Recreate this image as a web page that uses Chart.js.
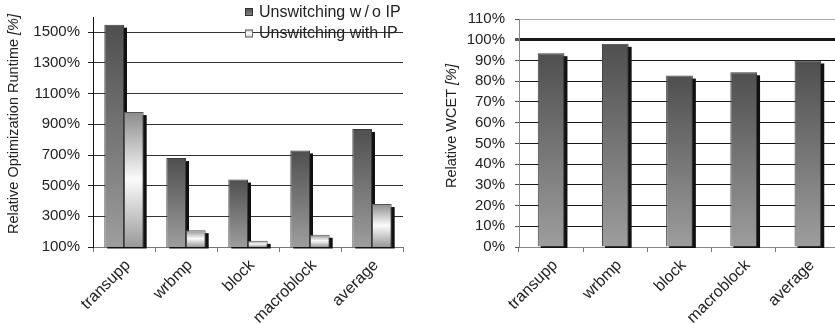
<!DOCTYPE html>
<html>
<head>
<meta charset="utf-8">
<script src="https://cdn.jsdelivr.net/npm/chart.js@4.4.1/dist/chart.umd.min.js"></script>
<style>
  html, body { margin: 0; padding: 0; background: #fff; }
  #wrap { position: relative; width: 835px; height: 324px; overflow: hidden; }
  #left { position: absolute; left: 0; top: 0; width: 415px; height: 324px; }
  #right { position: absolute; left: 415px; top: 0; width: 420px; height: 324px; overflow: hidden; }
  canvas { display: block; }
</style>
</head>
<body>
<div id="wrap">
  <div id="left"><canvas id="runtime" width="415" height="324" style="width:415px;height:324px"></canvas></div>
  <div id="right"><canvas id="wcet" width="425" height="324" style="width:425px;height:324px"></canvas></div>
</div>
<script>
// Benchmarks and measured values
const benchmarks = ['transupp', 'wrbmp', 'block', 'macroblock', 'average'];
const seriesNames = ['Unswitching w\u2009/\u2009o IP', 'Unswitching with IP'];
const runtimeWithoutIP = [1550, 680, 540, 730, 870];
const runtimeWithIP = [980, 210, 140, 180, 380];
const runtimeTicks = [100, 300, 500, 700, 900, 1100, 1300, 1500];
const wcetValues = [93.5, 98, 82.7, 84.3, 90];
const wcetTicks = [0, 10, 20, 30, 40, 50, 60, 70, 80, 90, 100, 110];

const FONT = '"Liberation Sans", Arial, Helvetica, sans-serif';
Chart.defaults.font.family = FONT;
Chart.defaults.color = '#222';

// Vertical gradient for each bar, running from its top down to the visible baseline
function barGradient(stops) {
  return function (ctx) {
    const chart = ctx.chart;
    if (!chart.chartArea || ctx.type !== 'data') return stops[stops.length - 1][1];
    const y = chart.scales.y;
    const top = y.getPixelForValue(ctx.raw);
    const bot = y.getPixelForValue(y.min);
    if (!(bot > top)) return stops[0][1];
    const g = chart.ctx.createLinearGradient(0, top, 0, bot);
    stops.forEach(s => g.addColorStop(s[0], s[1]));
    return g;
  };
}
const darkStops = [[0, '#4f4f4f'], [1, '#9d9d9d']];
const lightStops = [[0, '#8c8c8c'], [0.5, '#fbfbfb'], [1, '#999999']];

// Black drop shadow offset to the lower right of every bar
const barShadow = {
  id: 'barShadow',
  beforeDatasetsDraw(chart) {
    const ctx = chart.ctx;
    const floor = chart.chartArea.bottom;
    ctx.save();
    ctx.fillStyle = '#111';
    chart.data.datasets.forEach((ds, i) => {
      chart.getDatasetMeta(i).data.forEach(el => {
        const p = el.getProps(['x', 'y', 'base', 'width'], true);
        const base = Math.min(p.base, floor);
        const left = p.x - p.width / 2 + 3;
        ctx.fillRect(left, p.y + 3, p.width, base - p.y - 3 + 1.5);
      });
    });
    ctx.restore();
  }
};

// Rotated axis title with an italic unit part
function axisTitle(id, main, unit, cx, cy) {
  return {
    id,
    afterDraw(chart) {
      const ctx = chart.ctx;
      ctx.save();
      ctx.translate(cx, cy);
      ctx.rotate(-Math.PI / 2);
      ctx.fillStyle = '#222';
      ctx.textBaseline = 'middle';
      const fMain = '14.5px ' + FONT;
      const fUnit = 'italic 14.5px ' + FONT;
      ctx.font = fMain;
      const w1 = ctx.measureText(main).width;
      ctx.font = fUnit;
      const w2 = ctx.measureText(unit).width;
      const start = -(w1 + w2) / 2;
      ctx.font = fMain;
      ctx.textAlign = 'left';
      ctx.fillText(main, start, 0);
      ctx.font = fUnit;
      ctx.fillText(unit, start + w1, 0);
      ctx.restore();
    }
  };
}

// Legend drawn inside the plot area, top right
const runtimeLegend = {
  id: 'runtimeLegend',
  afterDraw(chart) {
    const ctx = chart.ctx;
    const rows = [12, 33.5];
    const boxX = 245, textX = 259;
    ctx.save();
    chart.data.datasets.forEach((ds, i) => {
      const cy = rows[i];
      const g = ctx.createLinearGradient(0, cy - 4, 0, cy + 4);
      if (i === 0) { g.addColorStop(0, '#4a4a4a'); g.addColorStop(1, '#8a8a8a'); }
      else { g.addColorStop(0, '#bdbdbd'); g.addColorStop(0.5, '#ffffff'); g.addColorStop(1, '#c4c4c4'); }
      ctx.fillStyle = g;
      ctx.fillRect(boxX, cy - 4, 8, 8);
      ctx.strokeStyle = i === 0 ? '#333' : '#666';
      ctx.lineWidth = 1;
      ctx.strokeRect(boxX + 0.5, cy - 3.5, 7, 7);
      ctx.fillStyle = '#222';
      ctx.font = '16px ' + FONT;
      ctx.textAlign = 'left';
      ctx.textBaseline = 'middle';
      ctx.fillText(ds.label, textX, cy + 0.5);
    });
    ctx.restore();
  }
};

function xScale(lineColor) {
  return {
    afterFit(scale) { scale.height = 77; },
    grid: { offset: true, drawOnChartArea: false, drawTicks: true, tickLength: 5, color: '#777' },
    border: { color: lineColor, width: 1 },
    ticks: {
      autoSkip: false, maxRotation: 45, minRotation: 45, padding: 4, labelOffset: 4,
      font: { size: 16 }, color: '#222'
    }
  };
}

// Left: relative optimization runtime
new Chart(document.getElementById('runtime'), {
  type: 'bar',
  data: {
    labels: benchmarks,
    datasets: [
      {
        label: seriesNames[0], data: runtimeWithoutIP,
        backgroundColor: barGradient(darkStops), borderColor: '#3a3a3a', borderWidth: 1,
        categoryPercentage: 0.635, barPercentage: 1
      },
      {
        label: seriesNames[1], data: runtimeWithIP,
        backgroundColor: barGradient(lightStops), borderColor: '#555', borderWidth: 1,
        categoryPercentage: 0.635, barPercentage: 1
      }
    ]
  },
  options: {
    responsive: false, animation: false, devicePixelRatio: 1,
    layout: { padding: { left: 0, top: 7, right: 12, bottom: 0 } },
    plugins: { legend: { display: false }, tooltip: { enabled: false } },
    scales: {
      x: xScale('#777'),
      y: {
        min: 100, max: 1600,
        afterFit(scale) { scale.width = 93; },
        afterBuildTicks(scale) { scale.ticks = runtimeTicks.map(v => ({ value: v })); },
        grid: {
          color: c => (c.tick && c.tick.value === 100 ? '#777' : '#333'),
          tickColor: '#222', tickLength: 5, lineWidth: 1
        },
        border: { color: '#111', width: 1 },
        ticks: { autoSkip: false, padding: 8, font: { size: 15 }, callback: v => v + '%' }
      }
    }
  },
  plugins: [barShadow, runtimeLegend, axisTitle('runtimeTitle', 'Relative Optimization Runtime ', '[%]', 14, 124)]
});

// Right: relative WCET
new Chart(document.getElementById('wcet'), {
  type: 'bar',
  data: {
    labels: benchmarks,
    datasets: [
      {
        label: 'WCET', data: wcetValues,
        backgroundColor: barGradient(darkStops), borderColor: '#3a3a3a', borderWidth: 1,
        categoryPercentage: 0.416, barPercentage: 1
      }
    ]
  },
  options: {
    responsive: false, animation: false, devicePixelRatio: 1,
    layout: { padding: { left: 0, top: 10, right: 0, bottom: 0 } },
    plugins: { legend: { display: false }, tooltip: { enabled: false } },
    scales: {
      x: xScale('#888'),
      y: {
        min: 0, max: 110,
        afterFit(scale) { scale.width = 104; },
        afterBuildTicks(scale) { scale.ticks = wcetTicks.map(v => ({ value: v })); },
        grid: {
          color: c => {
            const v = c.tick && c.tick.value;
            if (v === 110) return '#aaa';
            if (v === 0) return '#888';
            return '#1a1a1a';
          },
          lineWidth: c => (c.tick && c.tick.value === 100 ? 3 : 1),
          tickColor: '#555', tickLength: 4
        },
        border: { color: '#888', width: 1 },
        ticks: { autoSkip: false, padding: 10, font: { size: 15 }, callback: v => v + '%' }
      }
    }
  },
  plugins: [barShadow, axisTitle('wcetTitle', 'Relative WCET ', '[%]', 37, 126)]
});
</script>
</body>
</html>
